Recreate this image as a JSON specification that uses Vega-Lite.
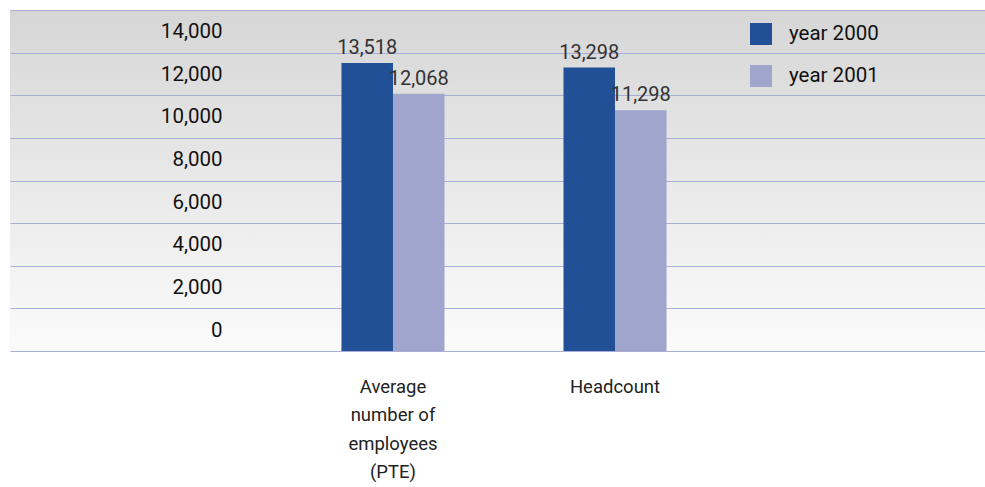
{
  "$schema": "https://vega.github.io/schema/vega-lite/v6.json",
  "autosize": "none",
  "padding": {"left": 10, "top": 10, "right": 0, "bottom": 136},
  "width": 988,
  "height": 341,
  "background": "white",
  "view": {
    "stroke": null,
    "fill": {
      "gradient": "linear",
      "x1": 0, "y1": 0, "x2": 0, "y2": 1,
      "stops": [
        {"offset": 0, "color": "#d6d6d6"},
        {"offset": 1, "color": "#fbfbfb"}
      ]
    }
  },
  "config": {
    "font": "Roboto"
  },
  "data": {
    "values": [
      {"category": "Average number of employees (PTE)", "year": "year 2000", "value": 13518},
      {"category": "Average number of employees (PTE)", "year": "year 2001", "value": 12068},
      {"category": "Headcount", "year": "year 2000", "value": 13298},
      {"category": "Headcount", "year": "year 2001", "value": 11298}
    ]
  },
  "layer": [
    {
      "mark": {"type": "bar"},
      "encoding": {
        "x": {
          "field": "category", "type": "nominal", "sort": null,
          "scale": {"domain": [" ", "Average number of employees (PTE)", "Headcount", "  "], "paddingInner": 0, "paddingOuter": 0.225},
          "axis": {
            "title": null, "domain": false, "ticks": false, "tickSize": 0,
            "labelAngle": 0, "labelFontSize": 18.5, "labelColor": "#222",
            "labelPadding": 26, "labelLineHeight": 28.5, "labelBaseline": "top",
            "labelLimit": 300,
            "labelExpr": "datum.value == 'Average number of employees (PTE)' ? ['Average', 'number of', 'employees', '(PTE)'] : datum.value"
          }
        },
        "xOffset": {"field": "year", "type": "nominal", "scale": {"domain": [" ", "year 2000", "year 2001", "  "], "paddingInner": 0, "paddingOuter": 0.155}},
        "y": {
          "field": "value", "type": "quantitative",
          "scale": {"domain": [0, 16000], "nice": false},
          "axis": {
            "title": null, "orient": "left",
            "values": [0, 2000, 4000, 6000, 8000, 10000, 12000, 14000, 16000],
            "domain": false, "ticks": false, "tickSize": 0,
            "grid": true, "gridColor": "#a9aed9", "gridWidth": 1, "gridOpacity": 1,
            "labelFontSize": 20.5, "labelColor": "#111", "labelAlign": "right",
            "labelBaseline": "middle", "labelPadding": -212, "labelOffset": -21,
            "labelExpr": "datum.value == 16000 ? '' : format(datum.value, ',')"
          }
        },
        "color": {
          "field": "year", "type": "nominal",
          "scale": {"domain": ["year 2000", "year 2001"], "range": ["#225096", "#9fa5cc"]},
          "legend": {
            "title": null, "orient": "none", "legendX": 740, "legendY": 13,
            "symbolType": "square", "symbolSize": 484, "symbolStrokeWidth": 0,
            "symbolOpacity": 1,
            "labelFontSize": 20.5, "labelColor": "#111", "labelOffset": 17,
            "rowPadding": 20
          }
        }
      }
    },
    {
      "mark": {"type": "text", "baseline": "alphabetic", "dy": -9, "fontSize": 20, "color": "#333"},
      "encoding": {
        "x": {"field": "category", "type": "nominal", "sort": null},
        "xOffset": {"field": "year", "type": "nominal"},
        "y": {"field": "value", "type": "quantitative"},
        "text": {"field": "value", "type": "quantitative", "format": ","}
      }
    }
  ]
}
